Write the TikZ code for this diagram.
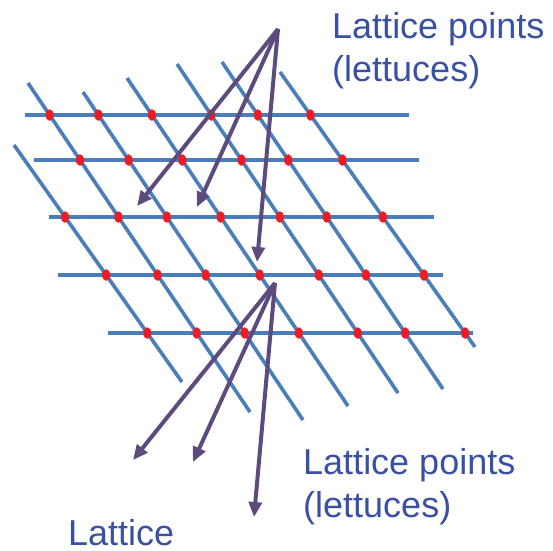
\documentclass[tikz,border=0pt]{standalone}
\usepackage{fontspec}
\setmainfont{Liberation Sans}
\usetikzlibrary{arrows.meta}
\definecolor{gridblue}{RGB}{74,126,187}
\definecolor{arrowpurple}{RGB}{94,75,126}
\definecolor{labelblue}{RGB}{58,80,162}
\definecolor{dotred}{RGB}{236,28,36}

\begin{document}
\begin{tikzpicture}[
    x=1pt, y=-1pt,
    gridline/.style={draw=gridblue, line width=3.6pt},
    latdot/.style={fill=dotred},
    pointer/.style={->, >={Triangle[length=15pt,width=13pt]}, draw=arrowpurple, fill=arrowpurple, line width=4pt},
    labeltext/.style={font=\fontsize{36}{43}\selectfont, text=labelblue, align=left, inner sep=0pt}
  ]
    \useasboundingbox (0,0) rectangle (553,550);
    % horizontal rows
    \coordinate (h1w) at (25,115);  \coordinate (h1e) at (409,115);
    \coordinate (h2w) at (34,160);  \coordinate (h2e) at (419,160);
    \coordinate (h3w) at (49,217);  \coordinate (h3e) at (434,217);
    \coordinate (h4w) at (58,275);  \coordinate (h4e) at (443,275);
    \coordinate (h5w) at (108,333); \coordinate (h5e) at (473,333);
    % slanted rows
    \coordinate (d1n) at (14,145);  \coordinate (d1s) at (182,382);
    \coordinate (d2n) at (28,83);   \coordinate (d2s) at (250,412);
    \coordinate (d3n) at (83,92);   \coordinate (d3s) at (303,420);
    \coordinate (d4n) at (127,78);  \coordinate (d4s) at (348,406);
    \coordinate (d5n) at (177,64);  \coordinate (d5s) at (398,393);
    \coordinate (d6n) at (222,62);  \coordinate (d6s) at (443,389);
    \coordinate (d7n) at (280,72);  \coordinate (d7s) at (475,347);
    \foreach \r in {1,...,5} \draw[gridline] (h\r w) -- (h\r e);
    \foreach \d in {1,...,7} \draw[gridline] (d\d n) -- (d\d s);
    % lattice points
    \foreach \r/\first in {1/2, 2/2, 3/1, 4/1, 5/1}
      \foreach \d in {\first,...,7}
        \fill[latdot] (intersection of h\r w--h\r e and d\d n--d\d s) ellipse [x radius=4pt, y radius=5.8pt];
    % pointers
    \coordinate (topsrc) at (278,29);
    \coordinate (tipa) at (137,206);
    \coordinate (tipb) at (197,207);
    \coordinate (tipc) at (257,262);
    \coordinate (botsrc) at (275,283);
    \coordinate (tipd) at (133,460);
    \coordinate (tipe) at (193,462);
    \coordinate (tipf) at (254,517);
    \draw[pointer] (topsrc) -- (tipa);
    \draw[pointer] (topsrc) -- (tipb);
    \draw[pointer] (topsrc) -- (tipc);
    \draw[pointer] (botsrc) -- (tipd);
    \draw[pointer] (botsrc) -- (tipe);
    \draw[pointer] (botsrc) -- (tipf);
    % labels
    \node[labeltext, anchor=base west] (toplabel) at (332,81) {Lattice points\\(lettuces)};
    \node[labeltext, anchor=base west] (botlabel) at (303,517) {Lattice points\\(lettuces)};
    \node[labeltext, anchor=base west] (lattice) at (68,545) {Lattice};
  \end{tikzpicture}
\end{document}
